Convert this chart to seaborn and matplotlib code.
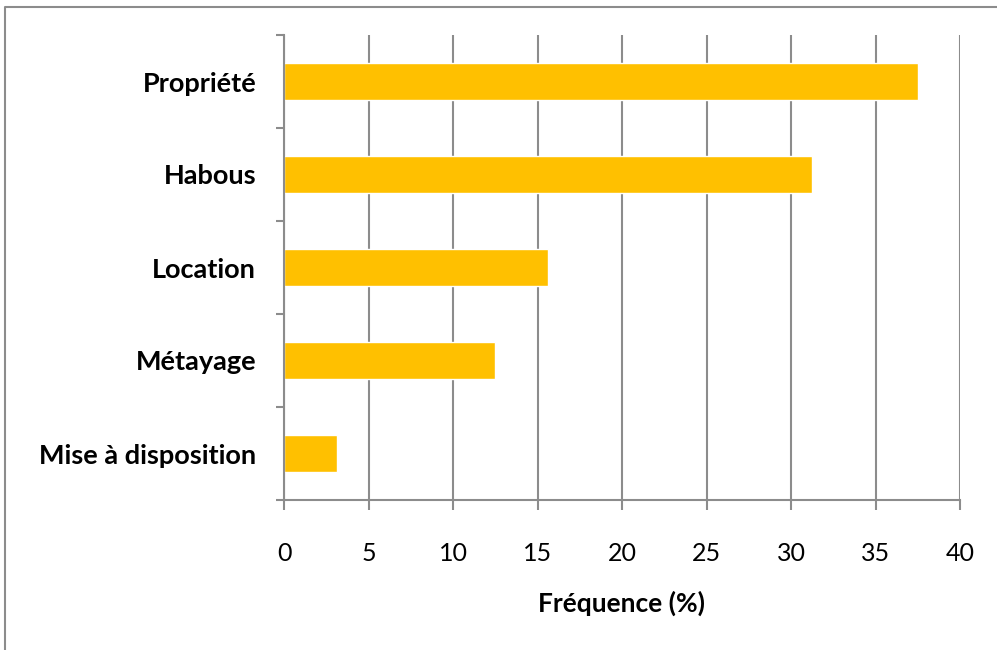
import matplotlib
matplotlib.use("Agg")
import matplotlib.pyplot as plt
from matplotlib.lines import Line2D
import seaborn as sns
import pandas as pd

# Land tenure modes and their frequency (%)
categories = ["Propriété", "Habous", "Location", "Métayage", "Mise à disposition"]
frequencies = [37.5, 31.25, 15.625, 12.5, 3.125]
x_ticks = [0, 5, 10, 15, 20, 25, 30, 35, 40]
x_label = "Fréquence (%)"

df = pd.DataFrame({"mode": categories, "freq": frequencies})

sns.set_theme(style="white")
plt.rcParams["font.family"] = ["Lato", "DejaVu Sans"]

W, H = 997, 650
fig = plt.figure(figsize=(W / 100, H / 100), dpi=100)
ax = fig.add_axes([284 / W, 1 - 500 / H, (960 - 284) / W, (500 - 35) / H])

grid_c = "#8c8c8c"
sns.barplot(data=df, x="freq", y="mode", orient="h", color="#FFC000",
            saturation=1, width=0.4, ax=ax, zorder=3)

ax.set_xlim(0, 40)
ax.set_ylim(len(categories) - 0.5, -0.5)
ax.set_xticks(x_ticks)
ax.set_xticklabels([str(v) for v in x_ticks], fontsize=18, color="black")
ax.xaxis.grid(True, color=grid_c, linewidth=1.5, zorder=0)
ax.yaxis.grid(False)

# Category boundaries as major ticks, names centred as minor ticks
ax.set_yticks([i - 0.5 for i in range(len(categories) + 1)])
ax.set_yticklabels([])
ax.set_yticks(range(len(categories)), minor=True)
ax.set_yticklabels(categories, minor=True, fontsize=19.5, fontweight="bold", color="black")
ax.tick_params(axis="y", which="major", direction="out", length=6, width=1.5,
               color=grid_c, left=True)
ax.tick_params(axis="y", which="minor", length=0, pad=20)
ax.tick_params(axis="x", direction="out", length=7, width=1.5, color=grid_c,
               bottom=True, pad=23)

for side in ("top", "right"):
    ax.spines[side].set_visible(False)
for side in ("left", "bottom"):
    ax.spines[side].set_color(grid_c)
    ax.spines[side].set_linewidth(1.5)
    ax.spines[side].set_zorder(4)

ax.set_ylabel("")
ax.set_xlabel(x_label, fontsize=19, fontweight="bold", color="black", labelpad=19)

# Outer chart frame
fx = 5 / W
fy = 1 - 7 / H
fig.add_artist(Line2D([fx, fx, 1.01], [-0.01, fy, fy], transform=fig.transFigure,
                      color="#8c8c8c", linewidth=1.5))

fig.savefig("out.png", dpi=100, facecolor="white")
